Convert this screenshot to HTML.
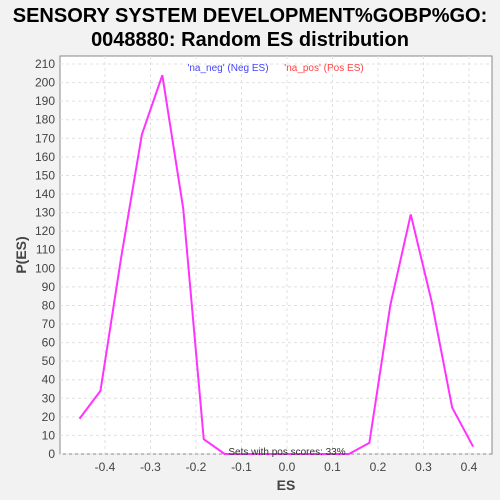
<!DOCTYPE html>
<html><head><meta charset="utf-8"><style>
body{margin:0;background:#f2f2f2;}
svg{display:block;font-family:"Liberation Sans","DejaVu Sans",sans-serif;}
</style></head><body>
<svg id="c" width="500" height="500">
<rect x="0" y="0" width="500" height="500" fill="#f2f2f2"/>
<text x="250" y="22" text-anchor="middle" font-size="20" font-weight="bold" fill="#000">SENSORY SYSTEM DEVELOPMENT%GOBP%GO:</text>
<text x="250" y="46" text-anchor="middle" font-size="20" font-weight="bold" fill="#000">0048880: Random ES distribution</text>
<rect x="60" y="56" width="432" height="398" fill="#fff" stroke="#888"/>
<g id="grid"></g><g id="ticks"></g>
<text x="286" y="490" text-anchor="middle" font-size="14" font-weight="bold" fill="#444">ES</text>
<text transform="translate(26,255) rotate(-90)" text-anchor="middle" font-size="14" font-weight="bold" fill="#444">P(ES)</text>
<text x="228" y="71" text-anchor="middle" font-size="10" fill="#4444ff">'na_neg' (Neg ES)</text>
<text x="324" y="71" text-anchor="middle" font-size="10" fill="#ff4444">'na_pos' (Pos ES)</text>
<g id="series"></g>
<text x="287" y="455" text-anchor="middle" font-size="10" fill="#333">Sets with pos scores: 33%</text>
</svg>
<script>
const xs=[-0.456,-0.410,-0.365,-0.319,-0.274,-0.228,-0.183,-0.137,-0.092,-0.046,0.0,0.045,0.091,0.136,0.181,0.227,0.272,0.318,0.363,0.409];
const ys=[19,34,105,172,204,132,8,0,0,0,0,0,0,0,6,80,129,82,25,4];
const xTicks=[-0.4,-0.3,-0.2,-0.1,0.0,0.1,0.2,0.3,0.4];
const yTicks=[0,10,20,30,40,50,60,70,80,90,100,110,120,130,140,150,160,170,180,190,200,210];
const X=v=>287+v*455, Y=v=>454-v*1.857;
const NS="http://www.w3.org/2000/svg";
const grid=document.getElementById('grid'),ticks=document.getElementById('ticks'),ser=document.getElementById('series');
function mk(tag,at,parent){const e=document.createElementNS(NS,tag);for(const k in at)e.setAttribute(k,at[k]);parent.appendChild(e);return e;}
xTicks.forEach(t=>{
 const l=mk('line',{x1:X(t),x2:X(t),y1:56,y2:454,stroke:'#e0e0e0','stroke-dasharray':'3,3'},grid);
 
 
 const tx=mk('text',{x:X(t),y:471,'text-anchor':'middle','font-size':12,fill:'#444'},ticks);
 tx.textContent=t.toFixed(1);
 
 
});
yTicks.forEach(t=>{
 const l=mk('line',{x1:60,x2:492,y1:Y(t),y2:Y(t),stroke:'#e0e0e0','stroke-dasharray':'3,3'},grid);
 
 
 const tx=mk('text',{x:55,y:Y(t)+4,'text-anchor':'end','font-size':12,fill:'#444'},ticks);
 tx.textContent=t;
 
 
});
const p=mk('polyline',{points:xs.map((x,i)=>X(x)+','+Y(ys[i])).join(' '),fill:'none',stroke:'#ff33ff','stroke-width':2},ser);


</script>
</body></html>
